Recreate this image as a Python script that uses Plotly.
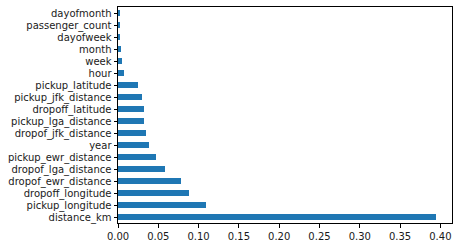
import plotly.graph_objects as go

features = ["distance_km", "pickup_longitude", "dropoff_longitude", "dropof_ewr_distance",
            "dropof_lga_distance", "pickup_ewr_distance", "year", "dropof_jfk_distance",
            "pickup_lga_distance", "dropoff_latitude", "pickup_jfk_distance", "pickup_latitude",
            "hour", "week", "month", "dayofweek", "passenger_count", "dayofmonth"]
importance = [0.3947, 0.1096, 0.0876, 0.0786, 0.0579, 0.0467, 0.0380, 0.0343,
              0.0320, 0.0319, 0.0294, 0.0244, 0.0071, 0.0046, 0.0031, 0.0030, 0.0029, 0.0017]
xticks = [0.0, 0.05, 0.10, 0.15, 0.20, 0.25, 0.30, 0.35, 0.40]

fig = go.Figure(go.Bar(
    x=importance, y=features, orientation="h", width=0.5,
    marker=dict(color="#1f77b4", line=dict(width=0)),
))

n = len(features)
fig.update_layout(
    width=459, height=248,
    margin=dict(l=118, r=6, t=6, b=24),
    paper_bgcolor="white", plot_bgcolor="white",
    font=dict(family="DejaVu Sans", size=10, color="#1a1a1a"),
    showlegend=False,
    bargap=0,
)
fig.update_xaxes(
    range=[0, max(importance) * 1.05], tickvals=xticks, tickformat=".2f",
    showgrid=False, zeroline=False, showline=True, linecolor="black", linewidth=1,
    mirror=True, ticks="outside", ticklen=3.5, tickcolor="black", tickwidth=1,
)
fig.update_yaxes(
    type="category", categoryorder="array", categoryarray=features,
    range=[-0.5, n - 0.5],
    showgrid=False, zeroline=False, showline=True, linecolor="black", linewidth=1,
    mirror=True, ticks="outside", ticklen=3.5, tickcolor="black", tickwidth=1,
)

fig.write_html("out.html")
